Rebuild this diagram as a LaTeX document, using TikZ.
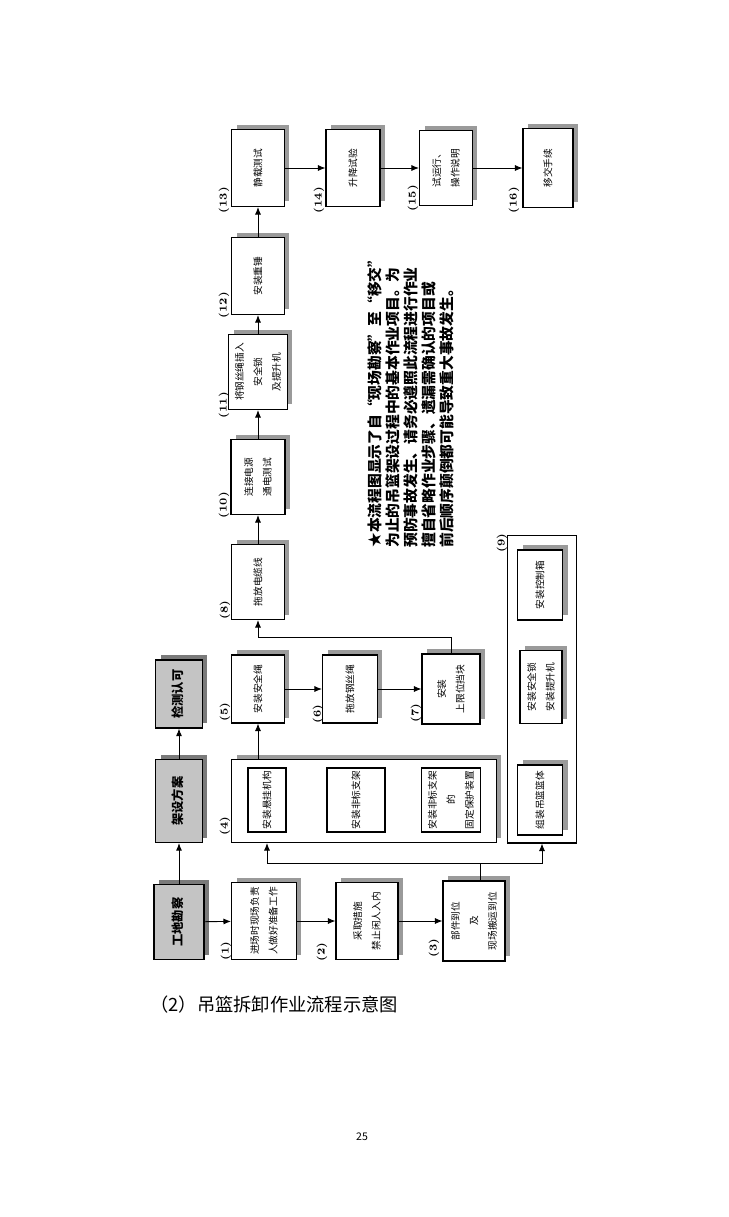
\documentclass[tikz,border=0pt]{standalone}
\usepackage{fontspec}
\usepackage{graphicx}
\newfontfamily\cjk{Noto Sans CJK SC}
\usetikzlibrary{arrows.meta, shadows}
\definecolor{ShadeGray}{HTML}{9A9A9A}
\definecolor{FillGray}{HTML}{C4C4C4}
\definecolor{DarkShade}{HTML}{7A7A7A}
\newcommand{\vtext}[1]{\rotatebox{90}{\begin{tabular}{@{}c@{}}#1\end{tabular}}}
\tikzset{
  stepbox/.style={draw, line width=0.6pt, fill=white, inner sep=1pt, font=\cjk\fontsize{5.5}{10.5}\selectfont, general shadow={fill=ShadeGray, shadow xshift=0.1cm, shadow yshift=0.1cm}},
  plainbox/.style={draw, line width=0.6pt, fill=white, inner sep=1pt, font=\cjk\fontsize{5.5}{10.5}\selectfont},
  keybox/.style={draw, line width=0.7pt, fill=FillGray, inner sep=1pt, font=\cjk\bfseries\fontsize{7}{9}\selectfont, general shadow={fill=DarkShade, shadow xshift=0.1cm, shadow yshift=0.1cm}},
  groupbox/.style={draw, line width=0.6pt, fill=white},
  numlabel/.style={rotate=90, inner sep=0pt, font=\bfseries\fontsize{6}{7}\selectfont},
  notetext/.style={rotate=90, anchor=north west, align=left, inner sep=0pt, font=\cjk\bfseries\fontsize{8.4}{10.3}\selectfont},
  arrow/.style={-{Latex[length=1.5mm, width=1.2mm]}, line width=0.5pt},
  line/.style={line width=0.5pt}
}
\begin{document}
\begin{tikzpicture}[x=0.02cm, y=-0.02cm]
\fill[white] (0,0) rectangle (728,1217);
\useasboundingbox (0,0) rectangle (728,1217);

% left column
\node[keybox, minimum width=1.0cm, minimum height=1.5cm] (survey) at (179,922) {\vtext{工地勘察}};
\node[keybox, minimum width=0.94cm, minimum height=1.66cm] (plan) at (179,801) {\vtext{架设方案}};
\node[keybox, minimum width=0.94cm, minimum height=1.36cm] (accept) at (179,694) {\vtext{检测认可}};

% preparation row
\node[stepbox, minimum width=1.3cm, minimum height=1.54cm] (s1) at (264,921) {\vtext{进场时现场负责\\人做好准备工作}};
\node[stepbox, minimum width=1.24cm, minimum height=1.54cm] (s2) at (367,921) {\vtext{采取措施\\禁止闲人入内}};
\node[stepbox, minimum width=1.24cm, minimum height=1.6cm] (s3) at (474,921) {\vtext{部件到位\\及\\现场搬运到位}};

% group (4)
\node[groupbox, general shadow={fill=ShadeGray, shadow xshift=0.1cm, shadow yshift=0.1cm}, minimum width=5.3cm, minimum height=1.66cm] (s4) at (364,801) {};
\node[plainbox, minimum width=0.76cm, minimum height=1.28cm] (s4a) at (267,800) {\vtext{安装悬挂机构}};
\node[plainbox, minimum width=1.16cm, minimum height=1.28cm] (s4b) at (356,800) {\vtext{安装非标支架}};
\node[plainbox, minimum width=1.14cm, minimum height=1.28cm] (s4c) at (451,800) {\vtext{安装非标支架\\的\\固定保护装置}};

% group (9)
\node[groupbox, minimum width=1.38cm, minimum height=6.16cm] (s9) at (542,689) {};
\node[stepbox, minimum width=0.9cm, minimum height=1.4cm] (s9a) at (540,800) {\vtext{组装吊篮篮体}};
\node[stepbox, minimum width=0.84cm, minimum height=1.46cm] (s9b) at (541,687) {\vtext{安装安全锁\\安装提升机}};
\node[stepbox, minimum width=0.9cm, minimum height=1.4cm] (s9c) at (540,585) {\vtext{安装控制箱}};

% rope row
\node[stepbox, minimum width=1.06cm, minimum height=1.36cm] (s5) at (258,689) {\vtext{安装安全绳}};
\node[stepbox, minimum width=1.1cm, minimum height=1.36cm] (s6) at (350,689) {\vtext{拖放钢丝绳}};
\node[stepbox, minimum width=1.16cm, minimum height=1.4cm] (s7) at (451,689) {\vtext{安装\\上限位挡块}};

% upward chain
\node[stepbox, minimum width=1.06cm, minimum height=1.5cm] (s8) at (258,582) {\vtext{拖放电缆线}};
\node[stepbox, minimum width=1.08cm, minimum height=1.5cm] (s10) at (258,477) {\vtext{连接电源\\通电测试}};
\node[stepbox, minimum width=1.08cm, minimum height=1.5cm] (s11) at (258,372) {\vtext{将钢丝绳插入\\安全锁\\及提升机}};
\node[stepbox, minimum width=1.06cm, minimum height=1.54cm] (s12) at (258,276) {\vtext{安装重锤}};

% test row
\node[stepbox, minimum width=1.06cm, minimum height=1.54cm] (s13) at (258,168) {\vtext{静载测试}};
\node[stepbox, minimum width=1.08cm, minimum height=1.54cm] (s14) at (353,168) {\vtext{升降试验}};
\node[stepbox, minimum width=1.06cm, minimum height=1.5cm] (s15) at (446,168) {\vtext{试运行、\\操作说明}};
\node[stepbox, minimum width=1.0cm, minimum height=1.58cm] (s16) at (548,168) {\vtext{移交手续}};

% step numbers
\node[numlabel] (n1) at (226,951) {(1)};
\node[numlabel] (n2) at (322,952) {(2)};
\node[numlabel] (n3) at (434,948) {(3)};
\node[numlabel] (n4) at (225,826) {(4)};
\node[numlabel] (n5) at (225,712) {(5)};
\node[numlabel] (n6) at (318,714) {(6)};
\node[numlabel] (n7) at (416,713) {(7)};
\node[numlabel] (n8) at (225,610) {(8)};
\node[numlabel] (n9) at (502,543) {(9)};
\node[numlabel] (n10) at (224,505) {(10)};
\node[numlabel] (n11) at (224,405) {(11)};
\node[numlabel] (n12) at (224,305) {(12)};
\node[numlabel] (n13) at (224,200) {(13)};
\node[numlabel] (n14) at (319,200) {(14)};
\node[numlabel] (n15) at (413,198) {(15)};
\node[numlabel] (n16) at (514,200) {(16)};

% note
\node[notetext] (note) at (367,548) {★本流程图显示了自“现场勘察”至“移交”\\为止的吊篮架设过程中的基本作业项目。为\\预防事故发生、请务必遵照此流程进行作业\\擅自省略作业步骤、遗漏需确认的项目或\\前后顺序颠倒都可能导致重大事故发生。};

% connectors
\draw[arrow] (survey) -- (plan);
\draw[arrow] (plan) -- (accept);
\draw[arrow] (survey) -- (s1);
\draw[arrow] (s1) -- (s2);
\draw[arrow] (s2) -- (s3);
\coordinate (split) at (480,863);
\draw[line] (s3.north -| split) -- (split);
\draw[arrow] (split) -| (s4.south -| s4a);
\draw[arrow] (split) -| (s9.south);
\draw[arrow] (s4.north -| s5) -- (s5);
\draw[arrow] (s5) -- (s6);
\draw[arrow] (s6) -- (s7);
\coordinate (turn) at (451,637);
\draw[arrow] (s7.north) -- (turn) -| (s8.south);
\draw[arrow] (s8) -- (s10);
\draw[arrow] (s10) -- (s11);
\draw[arrow] (s11) -- (s12);
\draw[arrow] (s12) -- (s13);
\draw[arrow] (s13) -- (s14);
\draw[arrow] (s14) -- (s15);
\draw[arrow] (s15) -- (s16);

% caption and page number
\node[anchor=west, inner sep=0pt, font=\cjk\fontsize{10.4}{12}\selectfont] (caption) at (150,1005) {（2）吊篮拆卸作业流程示意图};
\node[inner sep=0pt, font=\cjk\fontsize{6}{7}\selectfont] (pagenum) at (362,1137) {25};
\end{tikzpicture}
\end{document}
